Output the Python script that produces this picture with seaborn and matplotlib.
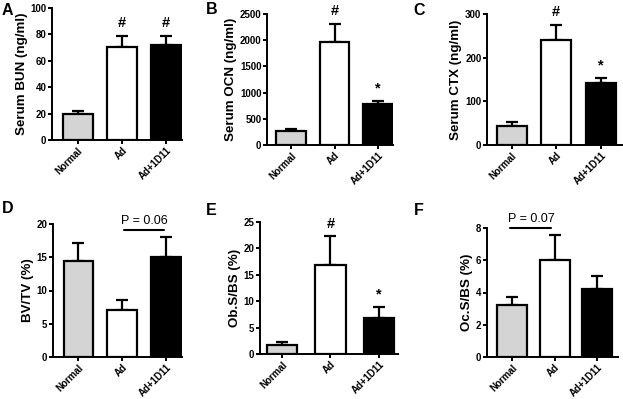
import matplotlib
matplotlib.use("Agg")
import matplotlib.pyplot as plt
import seaborn as sns
import numpy as np

groups = ["Normal", "Ad", "Ad+1D11"]
colors = ["#d4d4d4", "#ffffff", "#000000"]

bun_mean = [19.7, 70.8, 71.6]
bun_sem = [2.3, 8.2, 7.4]
ocn_mean = [274, 1971, 784]
ocn_sem = [26, 344, 64]
ctx_mean = [43.5, 240, 143]
ctx_sem = [8.5, 35, 10]
bvtv_mean = [14.46, 7.1, 15.06]
bvtv_sem = [2.64, 1.46, 3.04]
obs_mean = [1.65, 16.8, 6.77]
obs_sem = [0.69, 5.5, 2.09]
ocs_mean = [3.25, 6.04, 4.24]
ocs_sem = [0.47, 1.51, 0.76]

sns.set_style("ticks")
plt.rcParams['font.family'] = ['Liberation Sans', 'DejaVu Sans']
plt.rcParams.update({"text.color": "black", "axes.labelcolor": "black",
                     "xtick.color": "black", "ytick.color": "black",
                     "axes.edgecolor": "black"})

W, H = 623, 399
fig = plt.figure(figsize=(W / 100, H / 100), dpi=100)


def px_axes(l, r, t, b):
    return fig.add_axes([l / W, 1 - b / H, (r - l) / W, (b - t) / H])


panels = [
    dict(letter="A", mean=bun_mean, sem=bun_sem, ylabel="Serum BUN (ng/ml)", ymax=100, step=20,
         box=(52, 182, 8, 140), lpos=(2, 3), xlim=(-0.58, 2.36), width=0.68, marks=["", "#", "#"]),
    dict(letter="B", mean=ocn_mean, sem=ocn_sem, ylabel="Serum OCN (ng/ml)", ymax=2500, step=500,
         box=(267, 393, 14, 145), lpos=(206, 2), xlim=(-0.55, 2.34), width=0.68, marks=["", "#", "*"]),
    dict(letter="C", mean=ctx_mean, sem=ctx_sem, ylabel="Serum CTX (ng/ml)", ymax=300, step=100,
         box=(487, 622, 14, 145), lpos=(413, 3), xlim=(-0.55, 2.47), width=0.67, marks=["", "#", "*"]),
    dict(letter="D", mean=bvtv_mean, sem=bvtv_sem, ylabel="BV/TV (%)", ymax=20, step=5,
         box=(53, 182, 224, 357), lpos=(2, 201), xlim=(-0.58, 2.36), width=0.68, marks=["", "", ""]),
    dict(letter="E", mean=obs_mean, sem=obs_sem, ylabel="Ob.S/BS (%)", ymax=25, step=5,
         box=(260, 398, 222, 354), lpos=(206, 203), xlim=(-0.45, 2.39), width=0.62, marks=["", "#", "*"]),
    dict(letter="F", mean=ocs_mean, sem=ocs_sem, ylabel="Oc.S/BS (%)", ymax=8, step=2,
         box=(487, 618, 228, 357), lpos=(414, 203), xlim=(-0.59, 2.49), width=0.70, marks=["", "", ""]),
]

axes = {}
for p in panels:
    ax = px_axes(*p["box"])
    axes[p["letter"]] = ax
    sns.barplot(x=groups, y=p["mean"], hue=groups, palette=colors, edgecolor="black",
                linewidth=1.6, width=p["width"], legend=False, ax=ax, zorder=3)
    pos = np.arange(len(groups))
    ax.errorbar(pos, p["mean"], yerr=[np.zeros(len(groups)), p["sem"]], fmt="none",
                ecolor="black", elinewidth=1.6, capsize=4.5, capthick=1.6, zorder=2)
    ax.set_xlim(*p["xlim"])
    ax.set_ylim(0, p["ymax"])
    ticks = np.arange(0, p["ymax"] + 0.01, p["step"])
    ax.set_yticks(ticks)
    ax.set_yticklabels([f"{int(v)}" for v in ticks], fontsize=7, fontweight="bold")
    ax.set_xticks(pos)
    ax.set_xticklabels(groups, rotation=45, ha="right", rotation_mode="anchor",
                       fontsize=7, fontweight="bold")
    ax.set_xlabel("")
    ax.set_ylabel(p["ylabel"], fontsize=9.6, fontweight="bold", labelpad=2)
    for s in ["top", "right"]:
        ax.spines[s].set_visible(False)
    for s in ["left", "bottom"]:
        ax.spines[s].set_linewidth(1.4)
    ax.tick_params(axis="both", length=3, width=1.4, pad=1)
    for i, m in enumerate(p["marks"]):
        if m:
            ax.annotate(m, (pos[i], p["mean"][i] + p["sem"][i]), xytext=(0, 9),
                        textcoords="offset points", ha="center", va="center",
                        fontsize=10.5, fontweight="bold", annotation_clip=False)
    fig.text(p["lpos"][0] / W, 1 - p["lpos"][1] / H, p["letter"], fontsize=11.5,
             fontweight="bold", ha="left", va="top")

# P-value brackets
axD = axes["D"]
axD.plot([1.03, 1.95], [19.1, 19.1], color="black", lw=1.5, clip_on=False)
axD.annotate("P = 0.06", (1.5, 19.1), xytext=(0, 2), textcoords="offset points",
             ha="center", va="bottom", fontsize=9, annotation_clip=False)
axF = axes["F"]
axF.plot([-0.05, 0.92], [8.0, 8.0], color="black", lw=1.5, clip_on=False)
axF.annotate("P = 0.07", (0.45, 8.0), xytext=(0, 2), textcoords="offset points",
             ha="center", va="bottom", fontsize=9, annotation_clip=False)

fig.savefig("out.png", dpi=100)
